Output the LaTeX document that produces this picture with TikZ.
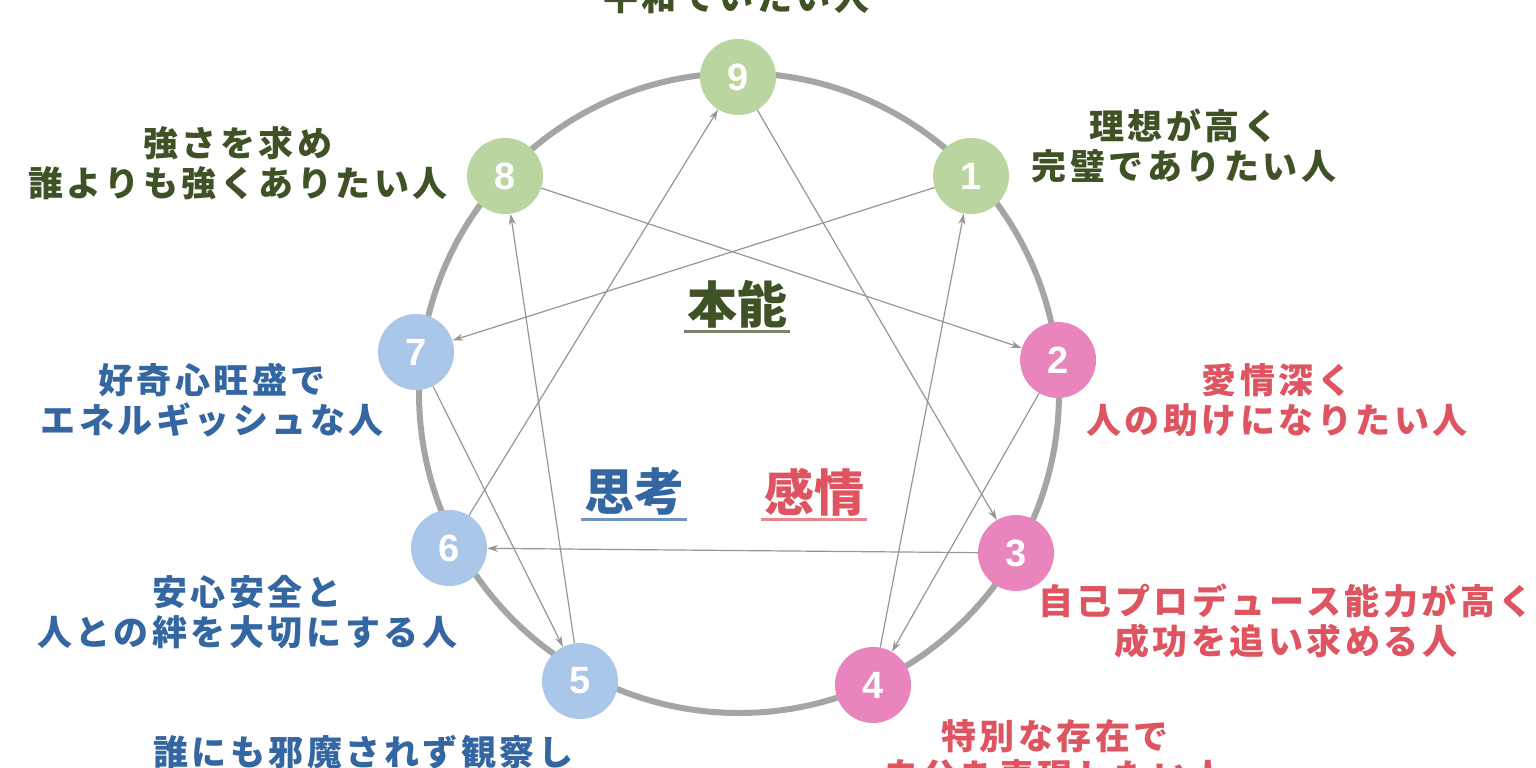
\documentclass[tikz,border=0pt]{standalone}
\usepackage{fontspec}
\newfontfamily\jp[LetterSpace=10]{Noto Sans CJK JP}
\newfontfamily\jpc{Noto Sans CJK JP}
\newfontfamily\numf{Liberation Sans}
\usetikzlibrary{arrows.meta}
\definecolor{ngreen}{RGB}{187,213,160}
\definecolor{nblue}{RGB}{170,198,232}
\definecolor{npink}{RGB}{234,132,188}
\definecolor{tgreen}{RGB}{62,82,38}
\definecolor{tblue}{RGB}{52,102,162}
\definecolor{tred}{RGB}{222,84,96}
\definecolor{ringc}{RGB}{165,165,165}
\definecolor{linec}{RGB}{150,150,150}
\tikzset{
  enn/.style={circle, minimum size=76pt, inner sep=0pt, text=white,
    font=\numf\bfseries\fontsize{38}{38}\selectfont},
  gnode/.style={enn, fill=ngreen},
  bnode/.style={enn, fill=nblue},
  pnode/.style={enn, fill=npink},
  lab/.style={align=center, inner sep=0pt, font=\jp\bfseries\fontsize{35}{40}\selectfont},
  glab/.style={lab, text=tgreen},
  blab/.style={lab, text=tblue},
  rlab/.style={lab, text=tred},
  cat/.style={inner sep=0pt, font=\jpc\bfseries\fontsize{50}{50}\selectfont},
  conn/.style={draw=linec, line width=1.2pt, -{Stealth[length=11pt,width=7pt]}},
  uline/.style={line width=3pt}
}
\begin{document}
\begin{tikzpicture}[x=1pt,y=-1pt]
\useasboundingbox (0,0) rectangle (1536,768);
\clip (0,0) rectangle (1536,768);
\fill[white] (0,0) rectangle (1536,768);
\draw[ringc, line width=6pt] (739,393) circle[radius=320pt];
% nodes
\node[gnode] (n9) at (738,77) {9};
\node[gnode] (n1) at (971,176) {1};
\node[pnode] (n2) at (1058,360) {2};
\node[pnode] (n3) at (1016,553) {3};
\node[pnode] (n4) at (873,685) {4};
\node[bnode] (n5) at (580,681) {5};
\node[bnode] (n6) at (449,548) {6};
\node[bnode] (n7) at (416,352) {7};
\node[gnode] (n8) at (505,176) {8};
% connectors
\draw[conn] (n1) -- (n7);
\draw[conn] (n7) -- (n5);
\draw[conn] (n5) -- (n8);
\draw[conn] (n8) -- (n2);
\draw[conn] (n2) -- (n4);
\draw[conn] (n4) -- (n1);
\draw[conn] (n9) -- (n3);
\draw[conn] (n3) -- (n6);
\draw[conn] (n6) -- (n9);
% labels
\node[glab] (l9) at (736,-3) {平和でいたい人};
\node[glab] (l8) at (238,163) {強さを求め\\誰よりも強くありたい人};
\node[glab] (l1) at (1184,146) {理想が高く\\完璧でありたい人};
\node[blab] (l7) at (212,400) {好奇心旺盛で\\エネルギッシュな人};
\node[rlab] (l2) at (1277,400) {愛情深く\\人の助けになりたい人};
\node[blab] (l6) at (247,612) {安心安全と\\人との絆を大切にする人};
\node[rlab] (l3) at (1286,621) {自己プロデュース能力が高く\\成功を追い求める人};
\node[blab] (l5) at (363,772) {誰にも邪魔されず観察し\\知識を深めたい人};
\node[rlab] (l4) at (1055,756) {特別な存在で\\自分を表現したい人};
% categories
\node[cat, text=tgreen] (c1) at (737,304) {本能};
\node[cat, text=tblue] (c2) at (634,492) {思考};
\node[cat, text=tred] (c3) at (814,492) {感情};
\draw[uline, draw=tgreen!70] ([xshift=-3pt,yshift=-27pt]c1.center -| c1.west) -- ([xshift=3pt,yshift=-27pt]c1.center -| c1.east);
\draw[uline, draw=tblue!70] ([xshift=-3pt,yshift=-27pt]c2.center -| c2.west) -- ([xshift=3pt,yshift=-27pt]c2.center -| c2.east);
\draw[uline, draw=tred!70] ([xshift=-3pt,yshift=-27pt]c3.center -| c3.west) -- ([xshift=3pt,yshift=-27pt]c3.center -| c3.east);
\end{tikzpicture}
\end{document}
